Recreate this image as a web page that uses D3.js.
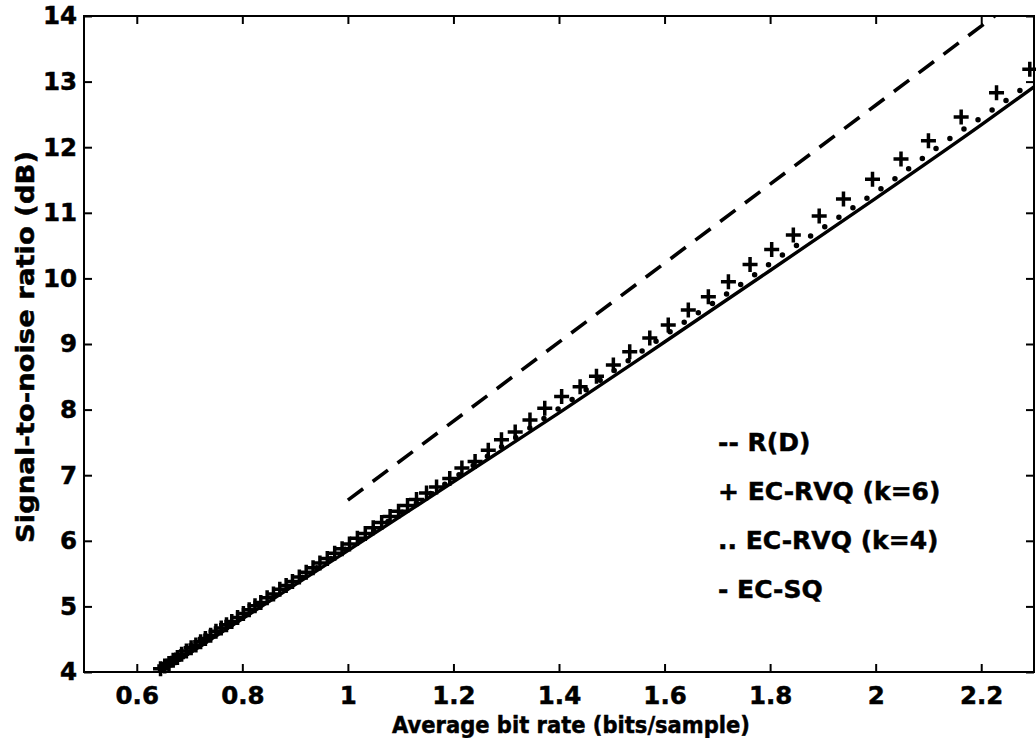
<!DOCTYPE html>
<html>
<head>
<meta charset="utf-8">
<script src="https://cdn.jsdelivr.net/npm/d3@7"></script>
<style>
  html, body { margin: 0; padding: 0; background: #fff; }
  svg { display: block; }
  text { font-family: "DejaVu Sans", "Liberation Sans", Arial, sans-serif; font-weight: bold; fill: #000; stroke: #000; stroke-width: 0.5px; }
</style>
</head>
<body>
<div id="chart"></div>
<script>
// ── Datos ───────────────────────────────────────────────────────────────────
const xTicks = [0.6, 0.8, 1.0, 1.2, 1.4, 1.6, 1.8, 2.0, 2.2];
const yTicks = [4, 5, 6, 7, 8, 9, 10, 11, 12, 13, 14];

// R(D), línea discontinua
const rdRate = [1.0, 1.5, 2.0, 2.3];
const rdSnr  = [6.62, 9.63, 12.64, 14.45];

// EC-RVQ (k=6), marcadores "+"
const rvq6Rate = [0.645, 0.653, 0.661, 0.669, 0.677, 0.685, 0.694, 0.703, 0.712, 0.721,
  0.730, 0.740, 0.750, 0.760, 0.770, 0.780, 0.791, 0.802, 0.813, 0.824,
  0.835, 0.847, 0.859, 0.871, 0.883, 0.895, 0.908, 0.921, 0.934, 0.947,
  0.961, 0.975, 0.989, 1.003, 1.018, 1.033, 1.048, 1.064, 1.080, 1.096,
  1.113, 1.130, 1.149, 1.168, 1.193, 1.216, 1.241, 1.266, 1.291, 1.317,
  1.345, 1.373, 1.405, 1.440, 1.471, 1.503, 1.534, 1.572, 1.607, 1.645,
  1.683, 1.721, 1.762, 1.803, 1.844, 1.893, 1.939, 1.994, 2.048, 2.100,
  2.162, 2.229, 2.292];
const rvq6Snr = [4.05, 4.09, 4.13, 4.18, 4.22, 4.27, 4.32, 4.37, 4.41, 4.46,
  4.51, 4.56, 4.62, 4.67, 4.72, 4.77, 4.83, 4.89, 4.95, 5.01,
  5.06, 5.13, 5.19, 5.26, 5.32, 5.38, 5.45, 5.52, 5.59, 5.66,
  5.73, 5.81, 5.88, 5.95, 6.04, 6.11, 6.20, 6.28, 6.37, 6.45,
  6.54, 6.63, 6.73, 6.82, 6.95, 7.11, 7.21, 7.38, 7.54, 7.66,
  7.84, 8.02, 8.20, 8.35, 8.51, 8.68, 8.88, 9.09, 9.29, 9.52,
  9.72, 9.95, 10.21, 10.44, 10.66, 10.95, 11.21, 11.51, 11.82, 12.10,
  12.46, 12.83, 13.19];

// EC-RVQ (k=4), línea punteada
const rvq4Rate = [0.645, 0.7, 0.8, 0.9, 1.0, 1.1, 1.2, 1.3, 1.4, 1.5, 1.6, 1.752, 1.833, 1.930, 2.035, 2.128, 2.225, 2.292];
const rvq4Snr  = [4.02, 4.31, 4.84, 5.37, 5.90, 6.42, 6.95, 7.48, 8.02, 8.57, 9.13, 9.95, 10.41, 10.93, 11.51, 12.06, 12.59, 12.97];

// EC-SQ, línea continua
const sqRate = [0.645, 0.8, 1.0, 1.2, 1.4, 1.6, 1.8, 2.0, 2.2, 2.3];
const sqSnr  = [4.0, 4.81, 5.85, 6.90, 7.95, 9.03, 10.12, 11.22, 12.34, 12.92];

const legendLabels = ["--  R(D)", "+ EC-RVQ (k=6)", ".. EC-RVQ (k=4)", "- EC-SQ"];

// ── Dimensiones ─────────────────────────────────────────────────────────────
const width = 1036, height = 738;
const m = { left: 84, right: 1034, top: 16, bottom: 672 };

const x = d3.scaleLinear().domain([0.5, 2.3]).range([m.left, m.right]);
const y = d3.scaleLinear().domain([4, 14]).range([m.bottom, m.top]);

const svg = d3.select("#chart").append("svg")
  .attr("width", width)
  .attr("height", height);

svg.append("defs").append("clipPath").attr("id", "plot")
  .append("rect")
  .attr("x", m.left).attr("y", m.top)
  .attr("width", m.right - m.left).attr("height", m.bottom - m.top);

const zip = (a, b) => a.map((v, i) => [v, b[i]]);
const straight = d3.line().x(d => x(d[0])).y(d => y(d[1]));
const smooth = d3.line().x(d => x(d[0])).y(d => y(d[1])).curve(d3.curveMonotoneX);

// ── Ejes ────────────────────────────────────────────────────────────────────
const tickLen = 8;

const gx = svg.append("g")
  .attr("transform", `translate(0,${m.bottom})`)
  .call(d3.axisBottom(x).tickValues(xTicks).tickFormat(d3.format("~g"))
    .tickSizeInner(-tickLen).tickSizeOuter(0).tickPadding(15));

const gy = svg.append("g")
  .attr("transform", `translate(${m.left},0)`)
  .call(d3.axisLeft(y).tickValues(yTicks).tickFormat(d3.format("d"))
    .tickSizeInner(-tickLen).tickSizeOuter(0).tickPadding(7));

const gt = svg.append("g")
  .attr("transform", `translate(0,${m.top})`)
  .call(d3.axisTop(x).tickValues(xTicks).tickFormat("")
    .tickSizeInner(-tickLen).tickSizeOuter(0));

const gr = svg.append("g")
  .attr("transform", `translate(${m.right},0)`)
  .call(d3.axisRight(y).tickValues(yTicks).tickFormat("")
    .tickSizeInner(-tickLen).tickSizeOuter(0));

[gx, gy, gt, gr].forEach(g => {
  g.select(".domain").remove();
  g.selectAll(".tick line").attr("stroke", "#000").attr("stroke-width", 2);
  g.selectAll(".tick text")
    .style("font-size", "24.5px")
    .style("font-family", "'DejaVu Sans', sans-serif")
    .style("font-weight", "bold")
    .attr("fill", "#000");
});

svg.append("rect")
  .attr("x", m.left).attr("y", m.top)
  .attr("width", m.right - m.left).attr("height", m.bottom - m.top)
  .attr("fill", "none").attr("stroke", "#000").attr("stroke-width", 2);

// ── Series ──────────────────────────────────────────────────────────────────
const plot = svg.append("g").attr("clip-path", "url(#plot)");

plot.append("path")
  .datum(zip(rdRate, rdSnr))
  .attr("d", straight)
  .attr("fill", "none").attr("stroke", "#000")
  .attr("stroke-width", 3.6)
  .attr("stroke-dasharray", "19,12");

plot.append("path")
  .datum(zip(sqRate, sqSnr))
  .attr("d", smooth)
  .attr("fill", "none").attr("stroke", "#000")
  .attr("stroke-width", 3.4);

plot.append("path")
  .datum(zip(rvq4Rate, rvq4Snr))
  .attr("d", smooth)
  .attr("fill", "none").attr("stroke", "#000")
  .attr("stroke-width", 5.5)
  .attr("stroke-linecap", "round")
  .attr("stroke-dasharray", "0,17");

svg.append("g")
  .selectAll("path")
  .data(zip(rvq6Rate, rvq6Snr))
  .join("path")
  .attr("transform", d => `translate(${x(d[0])},${y(d[1])})`)
  .attr("d", "M-7.5,0H7.5M0,-7.5V7.5")
  .attr("stroke", "#000")
  .attr("stroke-width", 3.5);

// ── Etiquetas de ejes ───────────────────────────────────────────────────────
svg.append("text")
  .attr("x", 571).attr("y", 733)
  .attr("text-anchor", "middle")
  .attr("textLength", 358)
  .attr("lengthAdjust", "spacingAndGlyphs")
  .style("font-size", "22.5px")
  .text("Average bit rate (bits/sample)");

svg.append("text")
  .attr("transform", `translate(34,347) rotate(-90)`)
  .attr("text-anchor", "middle")
  .attr("textLength", 392)
  .attr("lengthAdjust", "spacingAndGlyphs")
  .style("font-size", "25px")
  .text("Signal-to-noise ratio (dB)");

// ── Leyenda (texto al estilo MATLAB) ────────────────────────────────────────
svg.append("g")
  .selectAll("text")
  .data(legendLabels)
  .join("text")
  .attr("x", 718)
  .attr("y", (d, i) => 451 + i * 49)
  .style("font-size", "25px")
  .text(d => d);
</script>
</body>
</html>
